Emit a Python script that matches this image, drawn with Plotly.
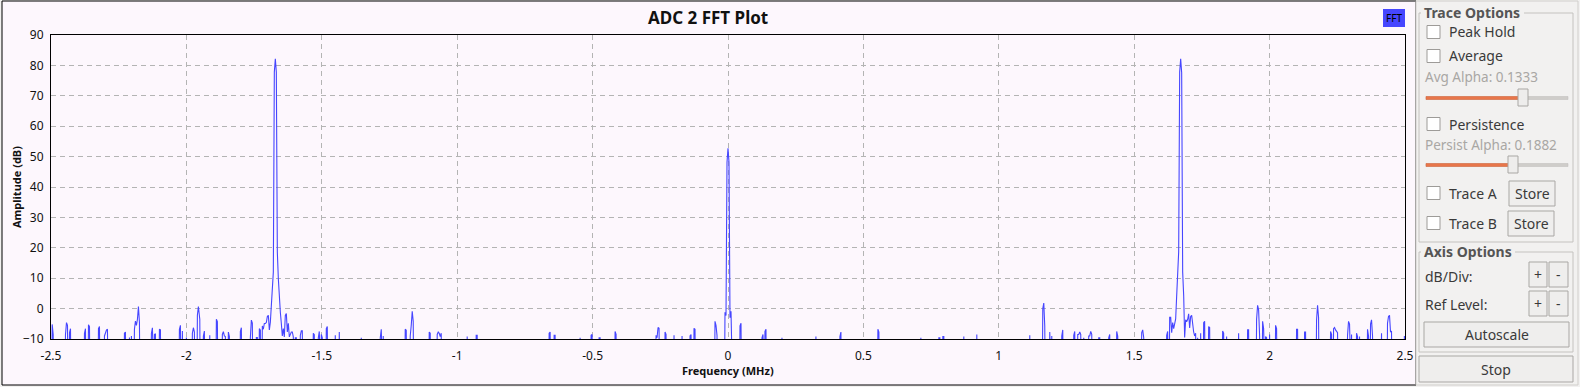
import plotly.graph_objects as go

# ---------------- data ----------------
FREQ_MHZ = [
    -2.4956, -2.4919, -2.4465, -2.4428, -2.4391, -2.4317, -2.4280, -2.3764, -2.3727, -2.3616,
    -2.3579, -2.3247, -2.3210, -2.3026, -2.2989, -2.2952, -2.2915, -2.2288, -2.2251, -2.2103,
    -2.2030, -2.1919, -2.1882, -2.1845, -2.1808, -2.1771, -2.1734, -2.1292, -2.1255, -2.1181,
    -2.1144, -2.0996, -2.0959, -2.0258, -2.0221, -2.0148, -2.0000, -1.9779, -1.9742, -1.9705,
    -1.9594, -1.9557, -1.9506, -1.9373, -1.9336, -1.9137, -1.8893, -1.8856, -1.8672, -1.8635,
    -1.8598, -1.8561, -1.8450, -1.8413, -1.8007, -1.7970, -1.7638, -1.7601, -1.7565, -1.7417,
    -1.7380, -1.7306, -1.7269, -1.7196, -1.7159, -1.7122, -1.7085, -1.7048, -1.7011, -1.6974,
    -1.6937, -1.6900, -1.6863, -1.6827, -1.6790, -1.6753, -1.6716, -1.6679, -1.6642, -1.6605,
    -1.6568, -1.6531, -1.6494, -1.6458, -1.6421, -1.6384, -1.6347, -1.6310, -1.6273, -1.6236,
    -1.6199, -1.6162, -1.6125, -1.6089, -1.6052, -1.5978, -1.5941, -1.5793, -1.5756, -1.5720,
    -1.5314, -1.5277, -1.5129, -1.5092, -1.5018, -1.4982, -1.4834, -1.4797, -1.4502, -1.4354,
    -1.3542, -1.2841, -1.2804, -1.2731, -1.1919, -1.1882, -1.1734, -1.1697, -1.1661, -1.1624,
    -1.1033, -1.0996, -1.0738, -1.0701, -1.0664, -1.0627, -1.0590, -0.9631, -0.9299, -0.9262,
    -0.6605, -0.6568, -0.6421, -0.6384, -0.5461, -0.5055, -0.5018, -0.4760, -0.4723, -0.4170,
    -0.4133, -0.2657, -0.2620, -0.2583, -0.2546, -0.2325, -0.2288, -0.1993, -0.1697, -0.1402,
    -0.1365, -0.1255, -0.1218, -0.0480, -0.0443, -0.0406, -0.0111, -0.0074, -0.0037, 0.0000,
    0.0037, 0.0074, 0.0111, 0.0148, 0.0443, 0.0480, 0.1255, 0.1292, 0.1365, 0.1402,
    0.1993, 0.3247, 0.4133, 0.4170, 0.5535, 0.5572, 0.7122, 0.7786, 0.7823, 0.7934,
    0.7970, 0.8708, 0.9188, 1.1144, 1.1624, 1.1661, 1.1697, 1.1882, 1.1956, 1.2325,
    1.2362, 1.2768, 1.2804, 1.2915, 1.2952, 1.2989, 1.3026, 1.3137, 1.3321, 1.3358,
    1.3395, 1.3432, 1.3690, 1.3727, 1.4059, 1.4096, 1.4354, 1.4391, 1.5277, 1.5314,
    1.5351, 1.6199, 1.6236, 1.6310, 1.6347, 1.6384, 1.6421, 1.6458, 1.6494, 1.6531,
    1.6568, 1.6605, 1.6642, 1.6679, 1.6716, 1.6753, 1.6790, 1.6827, 1.6863, 1.6900,
    1.6937, 1.6974, 1.7011, 1.7048, 1.7085, 1.7122, 1.7159, 1.7196, 1.7232, 1.7269,
    1.7343, 1.7454, 1.7565, 1.7601, 1.7749, 1.7786, 1.8266, 1.8303, 1.8413, 1.8856,
    1.9188, 1.9225, 1.9520, 1.9557, 1.9594, 1.9631, 1.9742, 1.9779, 1.9852, 1.9889,
    2.0000, 2.0221, 2.0258, 2.0996, 2.1033, 2.1292, 2.1328, 2.1734, 2.1771, 2.1808,
    2.2251, 2.2288, 2.2362, 2.2399, 2.2435, 2.2472, 2.2509, 2.2878, 2.2915, 2.2952,
    2.3026, 2.3210, 2.3247, 2.3321, 2.3616, 2.3653, 2.3727, 2.3764, 2.3801, 2.4133,
    2.4354, 2.4391, 2.4428, 2.4465, 2.4502, 2.4978,
]
AMP_DB = [
    -5.2, -8.5, -8.5, -4.6, -5.5, -7.9, -6.6, -8.1, -6.6, -5.3,
    -5.9, -6.6, -5.9, -9.0, -7.9, -7.1, -6.8, -8.1, -7.7, -9.5,
    -9.0, -6.8, -4.1, -5.5, -3.5, 0.7, -4.6, -8.1, -6.3, -8.5,
    -8.3, -6.8, -7.0, -6.8, -5.5, -7.4, -9.5, -8.1, -6.3, -7.7,
    -2.2, 0.7, -3.5, -9.0, -7.4, -8.8, -3.5, -4.3, -8.5, -7.6,
    -9.0, -9.2, -7.7, -9.2, -7.5, -6.3, -9.5, -3.8, -4.8, -9.5,
    -9.5, -6.6, -7.1, -5.7, -6.8, -4.9, -4.9, -4.6, -2.6, -2.2,
    -7.0, -4.5, 1.1, 4.3, 12.0, 77.8, 82.2, 77.8, 18.6, 9.8,
    2.8, -1.2, -4.9, -9.0, -6.6, -9.3, -2.2, -1.6, -7.7, -4.8,
    -9.3, -8.2, -7.7, -7.7, -9.3, -9.6, -9.6, -8.8, -7.3, -7.3,
    -8.1, -8.6, -9.6, -7.5, -8.5, -9.6, -6.6, -5.9, -8.8, -7.7,
    -9.6, -9.6, -6.8, -9.0, -6.8, -7.1, -9.0, -5.5, -0.9, -4.2,
    -7.7, -8.1, -8.5, -7.7, -8.1, -9.2, -8.1, -9.2, -8.8, -8.8,
    -8.1, -7.7, -8.8, -8.8, -9.6, -8.8, -8.5, -9.6, -9.6, -7.5,
    -8.5, -8.8, -9.6, -6.2, -6.5, -7.7, -8.5, -8.8, -9.0, -9.0,
    -8.5, -6.5, -6.8, -4.2, -5.5, -8.8, -1.2, -2.3, 48.1, 52.7,
    48.1, -3.0, -0.9, -8.9, -5.7, -4.8, -9.6, -8.5, -7.5, -6.8,
    -9.6, -9.2, -9.2, -7.7, -6.8, -7.7, -9.6, -9.6, -9.6, -9.2,
    -9.2, -9.2, -8.5, -8.8, 0.0, 1.8, -5.7, -7.7, -9.0, -9.0,
    -7.0, -8.8, -7.5, -8.5, -8.5, -7.7, -8.5, -9.6, -9.0, -9.0,
    -7.5, -8.5, -9.6, -9.6, -9.6, -8.5, -7.5, -9.0, -7.9, -7.0,
    -9.6, -8.8, -7.5, -2.9, -2.9, -7.9, -4.6, -6.6, -5.0, -3.4,
    4.1, 9.8, 18.6, 77.8, 82.2, 77.6, 12.0, 4.3, -9.5, -3.7,
    -4.3, -3.5, -1.7, -6.4, -2.6, -2.2, -6.5, -7.7, -9.0, -8.1,
    -9.6, -8.1, -4.6, -4.2, -5.9, -6.2, -7.4, -8.1, -9.2, -8.1,
    -7.0, -7.0, -3.5, 1.1, -0.4, -9.0, -4.2, -6.6, -9.2, -9.6,
    -8.5, -5.5, -6.6, -6.8, -6.8, -7.7, -7.7, -3.7, 1.1, -2.9,
    -7.5, -8.5, -6.6, -6.2, -7.0, -7.7, -7.9, -8.8, -4.2, -5.1,
    -8.5, -8.1, -9.2, -9.2, -6.8, -9.0, -5.1, -3.7, -9.0, -8.1,
    -4.8, -2.6, -2.2, -7.7, -7.4, -9.0,
]
NOISE_FLOOR_DB = -25.0   # bins below the visible range (< -10 dB)
BIN_HALF_MHZ = 0.0018

X_TICKS = [-2.5, -2, -1.5, -1, -0.5, 0, 0.5, 1, 1.5, 2, 2.5]
X_TICK_TEXT = ["-2.5", "-2", "-1.5", "-1", "-0.5", "0", "0.5", "1", "1.5", "2", "2.5"]
Y_TICKS = [-10, 0, 10, 20, 30, 40, 50, 60, 70, 80, 90]

TITLE = "ADC 2 FFT Plot"
X_TITLE = "Frequency (MHz)"
Y_TITLE = "Amplitude (dB)"

# ---------------- build the spectrum line ----------------
pts = sorted(zip(FREQ_MHZ, AMP_DB))
xs, ys = [], []
prev = None
for f, a in pts:
    if prev is None or f - prev > 0.0055:
        if prev is not None:
            xs.append(prev + BIN_HALF_MHZ); ys.append(NOISE_FLOOR_DB)
        xs.append(f - BIN_HALF_MHZ); ys.append(NOISE_FLOOR_DB)
    xs.append(f); ys.append(a)
    prev = f
xs.append(prev + BIN_HALF_MHZ); ys.append(NOISE_FLOOR_DB)

BLUE = "#4646ff"
PINK = "#fdf7fd"
GRAY_BG = "#f2f1f0"
FONT = "Noto Sans"

fig = go.Figure()
fig.add_trace(go.Scatter(x=xs, y=ys, mode="lines",
                         line=dict(color=BLUE, width=1.1), hoverinfo="skip",
                         showlegend=False))

# plot-area pixel geometry
L, R, T, B = 51, 1405, 35, 339
W, H = 1580, 387


def PX(x):
    return (x - L) / (R - L)


def PY(y):
    return (B - y) / (B - T)


shapes = []
ann = []


def rect(x0, y0, x1, y1, fill=None, line="#000000", lw=1, layer="above"):
    shapes.append(dict(type="rect", xref="paper", yref="paper",
                       x0=PX(x0), x1=PX(x1), y0=PY(y1), y1=PY(y0),
                       fillcolor=fill if fill else "rgba(0,0,0,0)",
                       line=dict(color=line, width=lw), layer=layer))


def text(x, y, s, size=13, color="#3c3c3c", bold=False, xanchor="left", family=FONT):
    ann.append(dict(xref="paper", yref="paper", x=PX(x), y=PY(y),
                    text=f"<b>{s}</b>" if bold else s, showarrow=False,
                    xanchor=xanchor, yanchor="middle",
                    font=dict(size=size, color=color, family=family)))


# plot widget background + frame
rect(2, 1, 1416, 385, fill=PINK, line="#000000", lw=1, layer="below")

# title, axis titles
text(708, 18, TITLE, size=17, color="#111111", bold=True, xanchor="center")
text(728, 370, X_TITLE, size=11, color="#111111", bold=True, xanchor="center")
ann.append(dict(xref="paper", yref="paper", x=PX(16), y=PY(187), text=f"<b>{Y_TITLE}</b>",
                showarrow=False, textangle=-90, xanchor="center", yanchor="middle",
                font=dict(size=11, color="#111111", family=FONT)))

# legend box "FFT"
rect(1383, 9, 1405, 27, fill=BLUE, line=BLUE, lw=0)
text(1394, 18, "FFT", size=10, color="#000000", xanchor="center")

# ---------------- side panel ----------------
DARK = "#3a3a3a"
DIM = "#a9a7a4"
BORDER = "#c4c2bf"
BTN_FILL = "#efeeed"
BTN_LINE = "#a9a7a4"

rect(1416, 1, 1578, 385, fill=GRAY_BG, line="#d0cecb", lw=1)
# group box Trace Options
rect(1419, 13, 1573, 242, fill=None, line=BORDER, lw=1)
shapes.append(dict(type="rect", xref="paper", yref="paper", x0=PX(1421), x1=PX(1524),
                   y0=PY(21), y1=PY(4), fillcolor=GRAY_BG, line=dict(width=0)))
text(1422, 12, "Trace Options", size=14, color="#555555", bold=True)


def checkbox(y, label):
    rect(1427, y - 6.5, 1440, y + 6.5, fill="#ffffff", line="#9d9b98", lw=1)
    text(1447, y, label, size=14, color=DARK)


def slider(y, xk):
    rect(1426, y - 1.5, 1568, y + 1.5, fill="#cfcdca", line="#bdbbb8", lw=0.5)
    rect(1426, y - 1.5, xk, y + 1.5, fill="#e8764a", line="#d7653a", lw=0.5)
    rect(xk - 5, y - 9, xk + 5, y + 8, fill="#eeedec", line="#a9a7a4", lw=1)


def button(x0, y0, x1, y1, label, size=14):
    rect(x0, y0, x1, y1, fill=BTN_FILL, line=BTN_LINE, lw=1)
    text((x0 + x1) / 2, (y0 + y1) / 2, label, size=size, color=DARK, xanchor="center")


checkbox(32, "Peak Hold")
checkbox(56, "Average")
text(1423, 77, "Avg Alpha: 0.1333", size=13.5, color=DIM)
slider(98, 1523)
checkbox(124, "Persistence")
text(1423, 145, "Persist Alpha: 0.1882", size=13.5, color=DIM)
slider(165, 1513)
checkbox(193, "Trace A")
button(1509, 181, 1555, 206, "Store")
checkbox(223, "Trace B")
button(1508, 211, 1554, 236, "Store")

# group box Axis Options
rect(1419, 252, 1573, 352, fill=None, line=BORDER, lw=1)
shapes.append(dict(type="rect", xref="paper", yref="paper", x0=PX(1421), x1=PX(1515),
                   y0=PY(260), y1=PY(243), fillcolor=GRAY_BG, line=dict(width=0)))
text(1422, 251, "Axis Options", size=14, color="#555555", bold=True)
text(1423, 276, "dB/Div:", size=14, color=DARK)
button(1529, 262, 1547, 287, "+")
button(1549, 262, 1568, 287, "-")
text(1423, 304, "Ref Level:", size=14, color=DARK)
button(1529, 291, 1547, 316, "+")
button(1549, 291, 1568, 316, "-")
button(1424, 322, 1569, 347, "Autoscale")
button(1419, 356, 1573, 382, "Stop")

fig.update_layout(
    width=W, height=H,
    margin=dict(l=L, r=W - R, t=T, b=H - B, pad=0),
    paper_bgcolor=GRAY_BG,
    plot_bgcolor=PINK,
    font=dict(family=FONT, size=12, color="#111111"),
    shapes=shapes,
    annotations=ann,
    showlegend=False,
)
fig.update_xaxes(range=[-2.5, 2.5], tickvals=X_TICKS, ticktext=X_TICK_TEXT,
                 showgrid=True, gridcolor="#b4b4b4", gridwidth=1, griddash="5px,4px",
                 zeroline=False, showline=True, linecolor="#000000", linewidth=1, mirror=True,
                 ticks="", tickfont=dict(size=12, color="#111111"), ticklabelstandoff=6)
fig.update_yaxes(range=[-10, 90], tickvals=Y_TICKS,
                 showgrid=True, gridcolor="#b4b4b4", gridwidth=1, griddash="5px,4px",
                 zeroline=False, showline=True, linecolor="#000000", linewidth=1, mirror=True,
                 ticks="", tickfont=dict(size=12, color="#111111"), ticklabelstandoff=4)

fig.write_html("out.html", config={"displayModeBar": False},
               post_script="document.body.style.margin='0px';document.body.style.overflow='hidden';")
